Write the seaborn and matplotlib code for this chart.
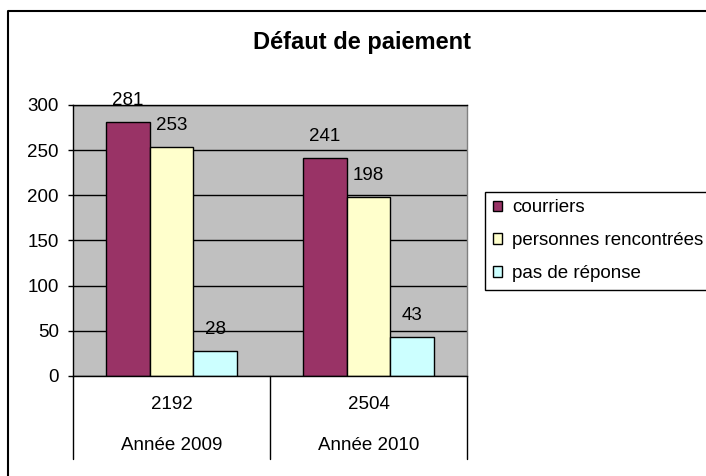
import pandas as pd
import matplotlib.pyplot as plt
import matplotlib.transforms as mtransforms
from matplotlib.lines import Line2D
import seaborn as sns

# données du graphique
annees = ['Année 2009', 'Année 2010']
totaux = ['2192', '2504']
series = ['courriers', 'personnes rencontrées', 'pas de réponse']
courriers = [281, 241]
personnes = [253, 198]
sans_reponse = [28, 43]
couleurs = ['#993366', '#FFFFCC', '#CCFFFF']

sns.set_style('white')
plt.rcParams['font.family'] = ['Liberation Sans', 'DejaVu Sans']
plt.rcParams['text.color'] = 'black'
plt.rcParams['ytick.color'] = 'black'
plt.rcParams['xtick.color'] = 'black'

FS = 13.5

df = pd.DataFrame({
    'annee': annees * len(series),
    'serie': [s for s in series for _ in annees],
    'valeur': courriers + personnes + sans_reponse,
})

fig = plt.figure(figsize=(7.06, 4.76), dpi=100)
ax = fig.add_axes([73 / 706, 1 - 376 / 476, (467 - 73) / 706, (376 - 105) / 476])
ax.set_facecolor('#C0C0C0')
ax.set_axisbelow(True)

sns.barplot(data=df, x='annee', y='valeur', hue='serie', order=annees,
            hue_order=series, palette=couleurs, saturation=1, width=0.67,
            edgecolor='black', linewidth=1, errorbar=None, ax=ax)

for cont in ax.containers:
    ax.bar_label(cont, padding=9.5, fontsize=FS, color='black')

ax.set_ylim(0, 300)
ax.set_xlim(-0.5, len(annees) - 0.5)
ax.set_yticks(range(0, 301, 50))
ax.yaxis.grid(True, color='black', linewidth=1)
ax.tick_params(axis='y', direction='out', length=3.6, width=1, color='black',
               pad=6.5, labelsize=FS, left=True, labelcolor='black')
ax.tick_params(axis='x', bottom=False, labelbottom=False)
ax.set_xlabel('')
ax.set_ylabel('')
for side in ['left', 'bottom', 'top']:
    ax.spines[side].set_color('black')
    ax.spines[side].set_linewidth(1)
ax.spines['right'].set_color('#808080')
ax.spines['right'].set_linewidth(1)

# étiquettes de catégories sur deux lignes + séparateurs
trans = mtransforms.blended_transform_factory(ax.transData, ax.transAxes)
for i, (tot, an) in enumerate(zip(totaux, annees)):
    ax.text(i, -0.107, tot, ha='center', va='center', fontsize=FS, transform=trans)
    ax.text(i, -0.255, an, ha='center', va='center', fontsize=FS, transform=trans)
for i in range(len(annees) + 1):
    ax.plot([i - 0.5, i - 0.5], [0, -0.306], transform=trans, color='black',
            linewidth=1, clip_on=False)

# légende
handles, labels = ax.get_legend_handles_labels()
if ax.get_legend() is not None:
    ax.get_legend().remove()
leg = fig.legend(handles, labels, loc='upper left',
                 bbox_to_anchor=(485 / 706, 1 - 192 / 476), frameon=True,
                 fancybox=False, edgecolor='black', framealpha=1, fontsize=FS,
                 handlelength=0.5, handleheight=0.5, handletextpad=0.55,
                 labelspacing=0.85, borderpad=0.4, borderaxespad=0)
leg.get_frame().set_linewidth(1)

fig.text(362 / 706, 1 - 42 / 476, 'Défaut de paiement', ha='center', va='center',
         fontsize=17, fontweight='bold')

# cadre extérieur (seuls les bords gauche et haut sont visibles)
fig.add_artist(Line2D([8 / 706, 8 / 706, 1], [0, 1 - 11 / 476, 1 - 11 / 476],
                      transform=fig.transFigure, color='black', linewidth=1.5))

plt.savefig('out.png', dpi=100)
